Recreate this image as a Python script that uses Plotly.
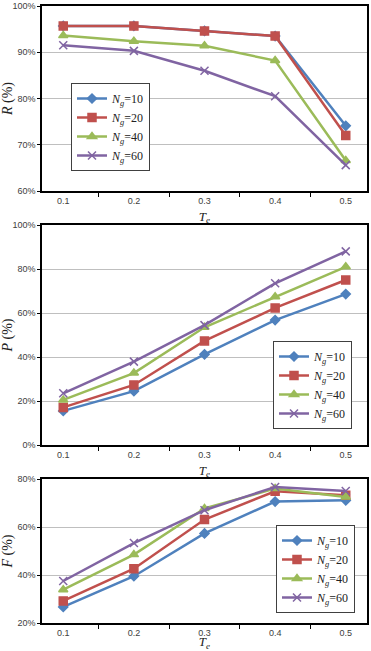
import plotly.graph_objects as go

te = ["0.1", "0.2", "0.3", "0.4", "0.5"]
series_names = ["<i>N<sub>g</sub></i>=10", "<i>N<sub>g</sub></i>=20",
                "<i>N<sub>g</sub></i>=40", "<i>N<sub>g</sub></i>=60"]

R_10 = [95.7, 95.7, 94.6, 93.5, 74.1]
R_20 = [95.7, 95.7, 94.6, 93.5, 72.0]
R_40 = [93.6, 92.4, 91.4, 88.2, 66.6]
R_60 = [91.5, 90.3, 86.0, 80.5, 65.6]

P_10 = [15.5, 24.5, 41.2, 56.8, 68.6]
P_20 = [17.1, 27.3, 47.3, 62.3, 75.0]
P_40 = [20.5, 32.7, 53.5, 67.4, 81.0]
P_60 = [23.5, 37.9, 54.5, 73.5, 88.0]

F_10 = [26.7, 39.5, 57.3, 70.6, 71.1]
F_20 = [29.2, 42.6, 63.1, 74.9, 73.2]
F_40 = [33.9, 48.5, 67.7, 76.0, 72.5]
F_60 = [37.5, 53.3, 67.0, 76.7, 75.0]

colors = ["#4F81BD", "#C0504D", "#9BBB59", "#8064A2"]
symbols = ["diamond", "square", "triangle-up", "x-thin"]
msizes = [7, 8, 8, 8]

panels = [
    ([R_10, R_20, R_40, R_60], "<i>R</i> (%)", [60, 100], 10, "legend"),
    ([P_10, P_20, P_40, P_60], "<i>P</i> (%)", [0, 100], 20, "legend2"),
    ([F_10, F_20, F_40, F_60], "<i>F</i> (%)", [20, 80], 20, "legend3"),
]

W, H = 371, 651
xdom = [42 / W, 367 / W]
ydoms = [
    [1 - 191 / H, 1 - 6 / H],
    [1 - 445 / H, 1 - 225 / H],
    [1 - 623 / H, 1 - 479 / H],
]

fig = go.Figure()
for p, (data, ytitle, yr, dt, leg) in enumerate(panels):
    sfx = "" if p == 0 else str(p + 1)
    for i, vals in enumerate(data):
        fig.add_trace(go.Scatter(
            x=te, y=vals, name=series_names[i], mode="lines+markers",
            xaxis="x" + sfx, yaxis="y" + sfx, legend=leg,
            line=dict(color=colors[i], width=2.5),
            marker=dict(symbol=symbols[i], size=msizes[i], color=colors[i],
                        line=dict(color=colors[i], width=1.5)),
        ))
    fig.update_layout(**{
        "xaxis" + sfx: dict(
            domain=xdom, anchor="y" + sfx, type="category",
            tickson="boundaries", ticks="outside", ticklen=4, tickcolor="black",
            showgrid=False, showline=True, mirror=True, linecolor="black", linewidth=1.5,
            tickfont=dict(family="Liberation Sans", size=9, color="#404040"),
            title=dict(text="<i>T<sub>e</sub></i>", standoff=7,
                       font=dict(family="Liberation Serif", size=13, color="#222")),
            automargin=False,
        ),
        "yaxis" + sfx: dict(
            domain=ydoms[p], anchor="x" + sfx, range=yr, dtick=dt, ticksuffix="%",
            ticks="outside", ticklen=3, tickcolor="black",
            showgrid=True, gridcolor="#BFBFBF", gridwidth=1,
            showline=True, mirror=True, linecolor="black", linewidth=1.5,
            zeroline=False,
            tickfont=dict(family="Liberation Sans", size=9, color="#404040"),
            title=dict(text=ytitle, standoff=10,
                       font=dict(family="Liberation Serif", size=14, color="#222")),
            automargin=False,
        ),
    })

legstyle = dict(bgcolor="white", bordercolor="#404040", borderwidth=1,
                font=dict(family="Liberation Serif", size=12, color="#222"),
                xanchor="left", yanchor="top", itemwidth=30, tracegroupgap=0)
fig.update_layout(
    width=W, height=H, margin=dict(l=0, r=0, t=0, b=0),
    paper_bgcolor="white", plot_bgcolor="white",
    legend=dict(x=71 / W, y=1 - 83 / H, **legstyle),
    legend2=dict(x=273 / W, y=1 - 341 / H, **legstyle),
    legend3=dict(x=276 / W, y=1 - 525 / H, **legstyle),
)
fig.write_html("out.html")
